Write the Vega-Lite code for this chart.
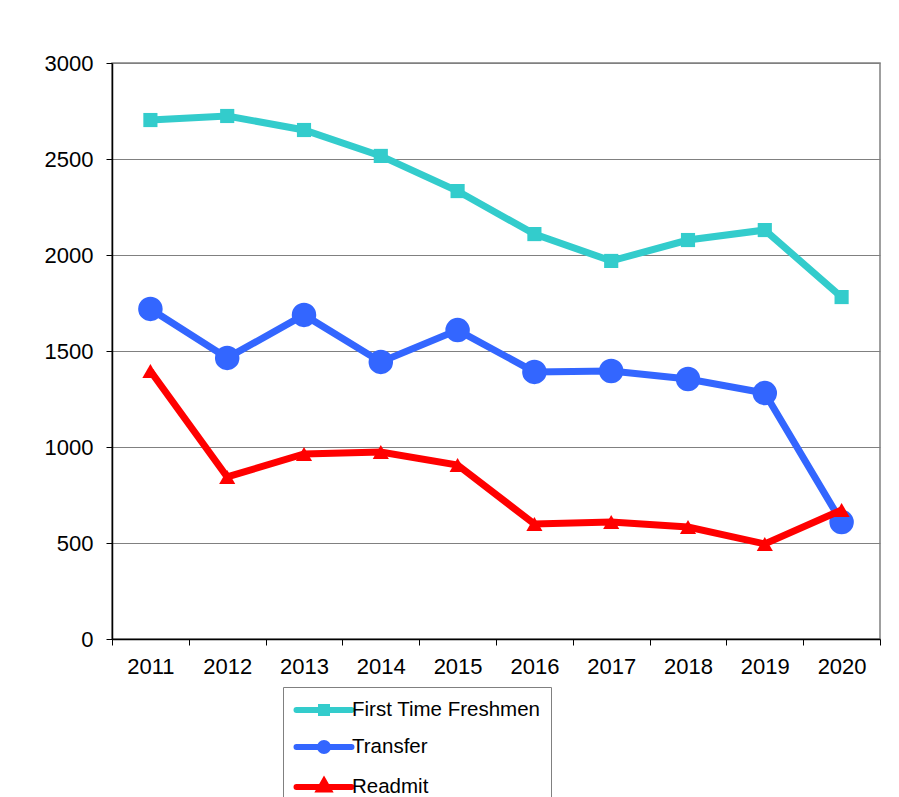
{
  "$schema": "https://vega.github.io/schema/vega-lite/v6.json",
  "width": 768,
  "height": 576,
  "autosize": {"type": "none"},
  "padding": {"left": 112, "top": 63, "right": 19, "bottom": 158},
  "background": "white",
  "config": {
    "font": "Liberation Sans",
    "view": {"stroke": "#808080", "strokeWidth": 1.5}
  },
  "data": {
    "values": [
      {"year": "2011", "series": "First Time Freshmen", "value": 2703},
      {"year": "2012", "series": "First Time Freshmen", "value": 2724},
      {"year": "2013", "series": "First Time Freshmen", "value": 2651},
      {"year": "2014", "series": "First Time Freshmen", "value": 2516},
      {"year": "2015", "series": "First Time Freshmen", "value": 2333},
      {"year": "2016", "series": "First Time Freshmen", "value": 2109},
      {"year": "2017", "series": "First Time Freshmen", "value": 1969},
      {"year": "2018", "series": "First Time Freshmen", "value": 2078},
      {"year": "2019", "series": "First Time Freshmen", "value": 2130},
      {"year": "2020", "series": "First Time Freshmen", "value": 1781},
      {"year": "2011", "series": "Transfer", "value": 1719},
      {"year": "2012", "series": "Transfer", "value": 1464},
      {"year": "2013", "series": "Transfer", "value": 1688},
      {"year": "2014", "series": "Transfer", "value": 1443},
      {"year": "2015", "series": "Transfer", "value": 1609},
      {"year": "2016", "series": "Transfer", "value": 1391},
      {"year": "2017", "series": "Transfer", "value": 1396},
      {"year": "2018", "series": "Transfer", "value": 1354},
      {"year": "2019", "series": "Transfer", "value": 1281},
      {"year": "2020", "series": "Transfer", "value": 609},
      {"year": "2011", "series": "Readmit", "value": 1396},
      {"year": "2012", "series": "Readmit", "value": 844},
      {"year": "2013", "series": "Readmit", "value": 964},
      {"year": "2014", "series": "Readmit", "value": 974},
      {"year": "2015", "series": "Readmit", "value": 906},
      {"year": "2016", "series": "Readmit", "value": 599},
      {"year": "2017", "series": "Readmit", "value": 609},
      {"year": "2018", "series": "Readmit", "value": 583},
      {"year": "2019", "series": "Readmit", "value": 495},
      {"year": "2020", "series": "Readmit", "value": 672}
    ]
  },
  "encoding": {
    "x": {
      "field": "year", "type": "ordinal",
      "scale": {"type": "band", "paddingInner": 0, "paddingOuter": 0},
      "axis": {"title": null, "labelAngle": 0, "tickBand": "extent", "labelPadding": 11, "grid": false,
        "labelFont": "Liberation Sans", "labelFontSize": 22, "labelColor": "black",
        "tickColor": "black", "tickSize": 6, "domainColor": "black", "domainWidth": 1.5}
    },
    "y": {
      "field": "value", "type": "quantitative",
      "scale": {"domain": [0, 3000], "nice": false, "zero": true},
      "axis": {"title": null, "values": [0, 500, 1000, 1500, 2000, 2500, 3000], "format": "d", "grid": true, "gridColor": "#808080", "gridWidth": 1, "labelPadding": 13,
        "labelFont": "Liberation Sans", "labelFontSize": 22, "labelColor": "black",
        "tickColor": "black", "tickSize": 6, "domainColor": "black", "domainWidth": 1.5}
    },
    "color": {
      "field": "series", "type": "nominal",
      "scale": {"domain": ["First Time Freshmen", "Transfer", "Readmit"], "range": ["#33CCCC", "#3366FF", "#FF0000"]},
      "legend": {
        "title": null,
        "orient": "none",
        "legendX": 171,
        "legendY": 624,
        "direction": "vertical",
        "strokeColor": "#808080",
        "padding": 10,
        "labelFont": "Liberation Sans",
        "labelFontSize": 20.5,
        "labelColor": "black",
        "labelLimit": 400,
        "symbolSize": 400,
        "symbolOffset": 18,
        "labelOffset": 15,
        "rowPadding": 6,
        "symbolStrokeWidth": 6,
        "encode": {
          "symbols": {
            "update": {
              "shape": {"signal": "datum.value === 'Transfer' ? 'M-2.75,0H2.75M-0.4,0A0.4,0.4,0,1,0,0.4,0A0.4,0.4,0,1,0,-0.4,0Z' : datum.value === 'Readmit' ? 'M-2.75,0H2.75M0,-0.55L0.45,0.25H-0.45Z' : 'M-2.75,0H2.75M-0.3,-0.3H0.3V0.3H-0.3Z'"},
              "stroke": {"signal": "scale('color', datum.value)"},
              "fill": {"signal": "scale('color', datum.value)"},
              "strokeWidth": {"value": 6},
              "strokeCap": {"value": "round"},
              "opacity": {"value": 1}
            }
          }
        }
      }
    }
  },
  "layer": [
    {
      "transform": [{"filter": "datum.series === 'First Time Freshmen'"}],
      "layer": [
        {"mark": {"type": "line", "strokeWidth": 7}},
        {"mark": {"type": "point", "shape": "square", "filled": true, "opacity": 1, "size": 200}}
      ]
    },
    {
      "transform": [{"filter": "datum.series === 'Transfer'"}],
      "layer": [
        {"mark": {"type": "line", "strokeWidth": 7}},
        {"mark": {"type": "point", "shape": "circle", "filled": true, "opacity": 1, "size": 600}}
      ]
    },
    {
      "transform": [{"filter": "datum.series === 'Readmit'"}],
      "layer": [
        {"mark": {"type": "line", "strokeWidth": 7}},
        {"mark": {"type": "point", "shape": "triangle-up", "filled": true, "opacity": 1, "size": 260}}
      ]
    }
  ]
}
